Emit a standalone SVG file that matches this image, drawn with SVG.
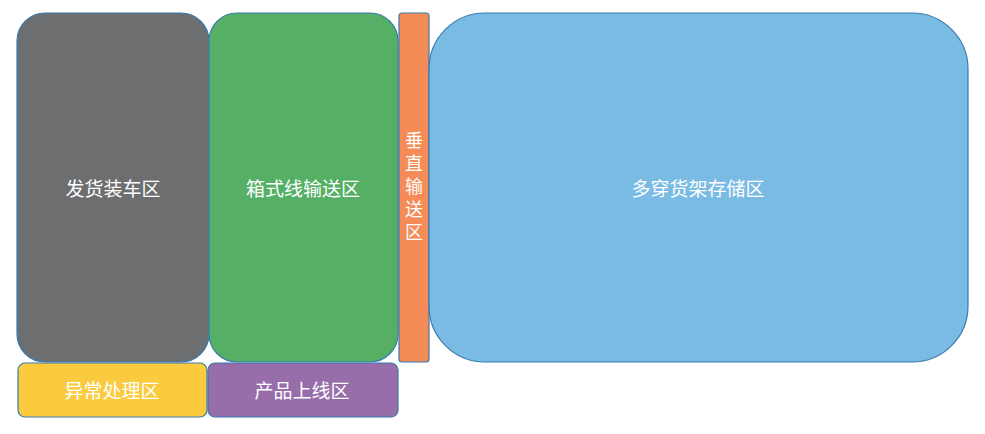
<svg xmlns="http://www.w3.org/2000/svg" width="985" height="434" viewBox="0 0 985 434">
<style>
.n{stroke:#3A7BAE;stroke-width:1.2}
.t{fill:#FFFFFF;font-family:"Noto Sans CJK SC","Liberation Sans",sans-serif;font-size:19px;text-anchor:middle;dominant-baseline:central}
.v{font-size:18px;writing-mode:vertical-rl;letter-spacing:5px}
</style>
<rect width="985" height="434" fill="#FFFFFF"/>
<g id="fahuo">
<rect class="n" x="17" y="13" width="192" height="349" rx="28" ry="28" fill="#6D6E70"/>
<text class="t" x="113" y="187">发货装车区</text>
</g>
<g id="xiangshi">
<rect class="n" x="209" y="13" width="189" height="349" rx="28" ry="28" fill="#55B066"/>
<text class="t" x="303" y="187">箱式线输送区</text>
</g>
<g id="chuizhi">
<rect class="n" x="399" y="13" width="30" height="349" rx="3" ry="3" fill="#F58B57"/>
<text class="t v" x="414" y="189">垂直输送区</text>
</g>
<g id="duochuan">
<rect class="n" x="429" y="13" width="539" height="349" rx="56" ry="56" fill="#7ABBE4"/>
<text class="t" x="698" y="187">多穿货架存储区</text>
</g>
<g id="yichang">
<rect class="n" x="18" y="363" width="189" height="54" rx="7" ry="7" fill="#FBCB3F"/>
<text class="t" x="112" y="389">异常处理区</text>
</g>
<g id="shangxian">
<rect class="n" x="208" y="363" width="190" height="54" rx="7" ry="7" fill="#976DAA"/>
<text class="t" x="302" y="389">产品上线区</text>
</g>
<g id="connectors"></g>
</svg>
